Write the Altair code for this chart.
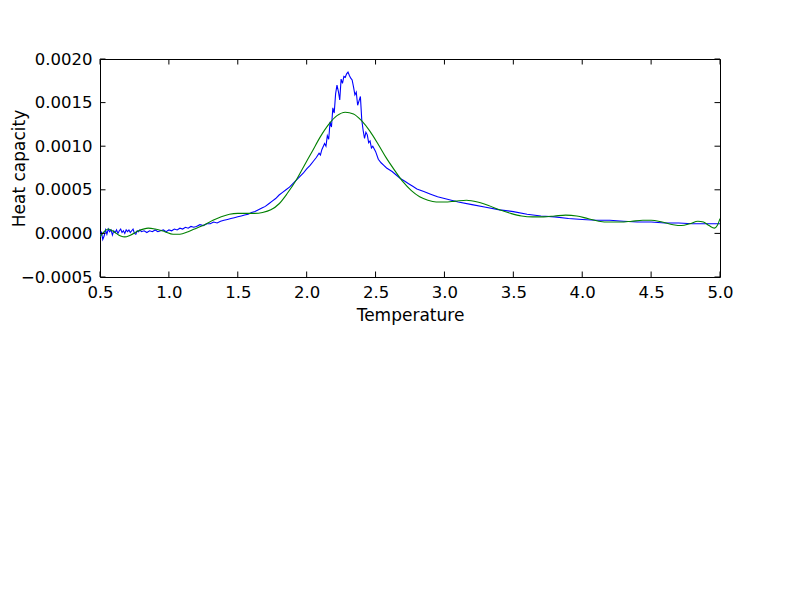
import altair as alt
import pandas as pd

# ---------------- data ----------------
blue_T = [0.500, 0.510, 0.520, 0.530, 0.540, 0.550, 0.560, 0.570, 0.580, 0.590,
          0.600, 0.610, 0.620, 0.630, 0.640, 0.650, 0.660, 0.670, 0.680, 0.690,
          0.700, 0.710, 0.720, 0.730, 0.740, 0.750, 0.760, 0.770, 0.780, 0.790,
          0.800, 0.820, 0.840, 0.860, 0.880, 0.900, 0.920, 0.940, 0.960, 0.980,
          1.000, 1.020, 1.040, 1.060, 1.080, 1.100, 1.120, 1.140, 1.160, 1.180,
          1.200, 1.225, 1.250, 1.275, 1.300, 1.325, 1.350, 1.375, 1.400, 1.425,
          1.450, 1.475, 1.500, 1.525, 1.550, 1.575, 1.600, 1.625, 1.650, 1.675,
          1.700, 1.725, 1.750, 1.775, 1.800, 1.825, 1.850, 1.875, 1.900, 1.925,
          1.950, 1.975, 2.000, 2.025, 2.050, 2.070, 2.090, 2.100, 2.110, 2.130,
          2.140, 2.150, 2.160, 2.170, 2.180, 2.190, 2.200, 2.210, 2.220, 2.230,
          2.240, 2.250, 2.260, 2.270, 2.280, 2.290, 2.300, 2.310, 2.320, 2.330,
          2.340, 2.350, 2.360, 2.370, 2.380, 2.390, 2.400, 2.410, 2.420, 2.430,
          2.440, 2.450, 2.460, 2.470, 2.480, 2.500, 2.520, 2.540, 2.560, 2.580,
          2.600, 2.620, 2.650, 2.680, 2.710, 2.740, 2.770, 2.800, 2.850, 2.900,
          2.950, 3.000, 3.100, 3.200, 3.300, 3.400, 3.500, 3.600, 3.700, 3.800,
          3.900, 4.000, 4.100, 4.200, 4.300, 4.400, 4.500, 4.600, 4.700, 4.800,
          4.900, 5.000]
blue_C = [-0.00003, 0.00002, -0.00007, -0.00003, 0.00004, -0.00001, 0.00005, 0.00002, 0.00004, -0.00002,
          0.00003, 0.00001, 0.00004, 0.00000, 0.00003, 0.00005, 0.00001, 0.00003, 0.00000, 0.00004,
          0.00002, 0.00004, 0.00001, 0.00003, 0.00005, 0.00000, -0.00001, 0.00003, 0.00002, 0.00004,
          0.00002, 0.00003, 0.00001, 0.00003, 0.00002, 0.00004, 0.00002, 0.00003, 0.00004, 0.00002,
          0.00004, 0.00003, 0.00005, 0.00004, 0.00006, 0.00005, 0.00007, 0.00006, 0.00008, 0.00007,
          0.00008, 0.00010, 0.00009, 0.00011, 0.00011, 0.00013, 0.00012, 0.00014, 0.00015, 0.00016,
          0.00017, 0.00018, 0.00019, 0.00020, 0.00021, 0.00022, 0.00024, 0.00025, 0.00027, 0.00029,
          0.00031, 0.00034, 0.00037, 0.00040, 0.00044, 0.00047, 0.00050, 0.00053, 0.00057, 0.00061,
          0.00065, 0.00069, 0.00074, 0.00078, 0.00083, 0.00087, 0.00092, 0.00090, 0.00096, 0.00103,
          0.00100, 0.00112, 0.00108, 0.00128, 0.00122, 0.00144, 0.00138, 0.00160, 0.00170, 0.00163,
          0.00153, 0.00177, 0.00172, 0.00180, 0.00179, 0.00183, 0.00185, 0.00181, 0.00178, 0.00176,
          0.00168, 0.00159, 0.00162, 0.00147, 0.00152, 0.00157, 0.00130, 0.00118, 0.00109, 0.00116,
          0.00113, 0.00104, 0.00106, 0.00098, 0.00100, 0.00094, 0.00085, 0.00081, 0.00078, 0.00075,
          0.00073, 0.00071, 0.00067, 0.00063, 0.00060, 0.00057, 0.00054, 0.00051, 0.00048, 0.00045,
          0.00042, 0.00040, 0.00036, 0.00033, 0.00030, 0.00027, 0.00025, 0.00022, 0.00020, 0.00019,
          0.00017, 0.00016, 0.00015, 0.00015, 0.00014, 0.00013, 0.00013, 0.00012, 0.00012, 0.00011,
          0.00011, 0.00011]

green_T = [0.50, 0.53, 0.56, 0.60, 0.65, 0.68, 0.72, 0.78, 0.85, 0.90,
           0.97, 1.03, 1.08, 1.14, 1.20, 1.26, 1.32, 1.38, 1.44, 1.50,
           1.56, 1.62, 1.68, 1.74, 1.80, 1.86, 1.92, 1.98, 2.04, 2.10,
           2.16, 2.22, 2.28, 2.34, 2.40, 2.46, 2.52, 2.58, 2.64, 2.70,
           2.76, 2.82, 2.88, 2.94, 3.00, 3.08, 3.16, 3.24, 3.32, 3.40,
           3.48, 3.56, 3.64, 3.72, 3.80, 3.88, 3.96, 4.04, 4.12, 4.20,
           4.28, 4.36, 4.44, 4.50, 4.58, 4.66, 4.72, 4.78, 4.84, 4.88,
           4.92, 4.96, 4.98, 5.00]
green_C = [-0.00004, 0.00002, 0.00005, 0.00002, -0.00003, -0.00004, -0.00002, 0.00003, 0.00006, 0.00005,
           0.00002, -0.00001, -0.00001, 0.00002, 0.00006, 0.00010, 0.00015, 0.00019, 0.00022, 0.00023,
           0.00023, 0.00023, 0.00024, 0.00027, 0.00034, 0.00046, 0.00060, 0.00077, 0.00094, 0.00111,
           0.00125, 0.00135, 0.00139, 0.00137, 0.00129, 0.00117, 0.00102, 0.00086, 0.00072, 0.00059,
           0.00049, 0.00042, 0.00038, 0.00036, 0.00036, 0.00037, 0.00038, 0.00036, 0.00032, 0.00027,
           0.00023, 0.00020, 0.00019, 0.00019, 0.00020, 0.00021, 0.00020, 0.00017, 0.00014, 0.00013,
           0.00013, 0.00014, 0.00015, 0.00015, 0.00013, 0.00010, 0.00009, 0.00011, 0.00014, 0.00013,
           0.00009, 0.00006, 0.00009, 0.00017]

x_ticks = [0.5, 1.0, 1.5, 2.0, 2.5, 3.0, 3.5, 4.0, 4.5, 5.0]
y_ticks = [-0.0005, 0.0, 0.0005, 0.0010, 0.0015, 0.0020]

# ---------------- chart ----------------
W, H = 620, 218
FONT = "DejaVu Sans"
TL = 5.5  # tick length (inward)

blue_df = pd.DataFrame({"T": blue_T, "C": blue_C})
green_df = pd.DataFrame({"T": green_T, "C": green_C})
xt_df = pd.DataFrame({"t": x_ticks})
yt_df = pd.DataFrame({"t": y_ticks})

xscale = alt.Scale(domain=[0.5, 5.0], nice=False, zero=False)
yscale = alt.Scale(domain=[-0.0005, 0.0020], nice=False, zero=False)

xaxis = alt.Axis(values=x_ticks, format=".1f", title="Temperature", ticks=False,
                 domain=False, grid=False, labelPadding=7, titlePadding=7,
                 labelFlush=False, labelFont=FONT, titleFont=FONT,
                 labelFontSize=16.5, titleFontSize=17, titleFontWeight="normal",
                 labelColor="black", titleColor="black")
yaxis = alt.Axis(values=y_ticks, format=".4f", title="Heat capacity", ticks=False,
                 domain=False, grid=False, labelPadding=8,
                 labelFlush=False, labelFont=FONT, titleFont=FONT,
                 labelFontSize=16.5, titleFontSize=17, titleFontWeight="normal",
                 labelColor="black", titleColor="black",
                 titleX=-76, titleY=H / 2, titleBaseline="alphabetic", titleAngle=270)

blue = alt.Chart(blue_df).mark_line(color="#0000ff", strokeWidth=1.1, clip=True).encode(
    x=alt.X("T:Q", scale=xscale, axis=xaxis),
    y=alt.Y("C:Q", scale=yscale, axis=yaxis),
)
green = alt.Chart(green_df).mark_line(color="#008000", strokeWidth=1.1, clip=True,
                                      interpolate="monotone").encode(
    x=alt.X("T:Q", scale=xscale),
    y=alt.Y("C:Q", scale=yscale),
)

xt_bottom = alt.Chart(xt_df).mark_rule(color="black", strokeWidth=1).encode(
    x=alt.X("t:Q", scale=xscale), y=alt.value(H), y2=alt.value(H - TL))
xt_top = alt.Chart(xt_df).mark_rule(color="black", strokeWidth=1).encode(
    x=alt.X("t:Q", scale=xscale), y=alt.value(0), y2=alt.value(TL))
yt_left = alt.Chart(yt_df).mark_rule(color="black", strokeWidth=1).encode(
    y=alt.Y("t:Q", scale=yscale), x=alt.value(0), x2=alt.value(TL))
yt_right = alt.Chart(yt_df).mark_rule(color="black", strokeWidth=1).encode(
    y=alt.Y("t:Q", scale=yscale), x=alt.value(W), x2=alt.value(W - TL))

chart = alt.layer(blue, green, xt_bottom, xt_top, yt_left, yt_right).properties(
    width=W, height=H,
    autosize=alt.AutoSizeParams(type="none"),
    padding={"left": 92, "top": 51, "right": 60, "bottom": 80},
).configure(background="white", font=FONT).configure_view(
    stroke="black", strokeWidth=1
).configure_axis(labelFont=FONT, titleFont=FONT)

chart.save("out.html", embed_options={"renderer": "svg", "actions": False})
